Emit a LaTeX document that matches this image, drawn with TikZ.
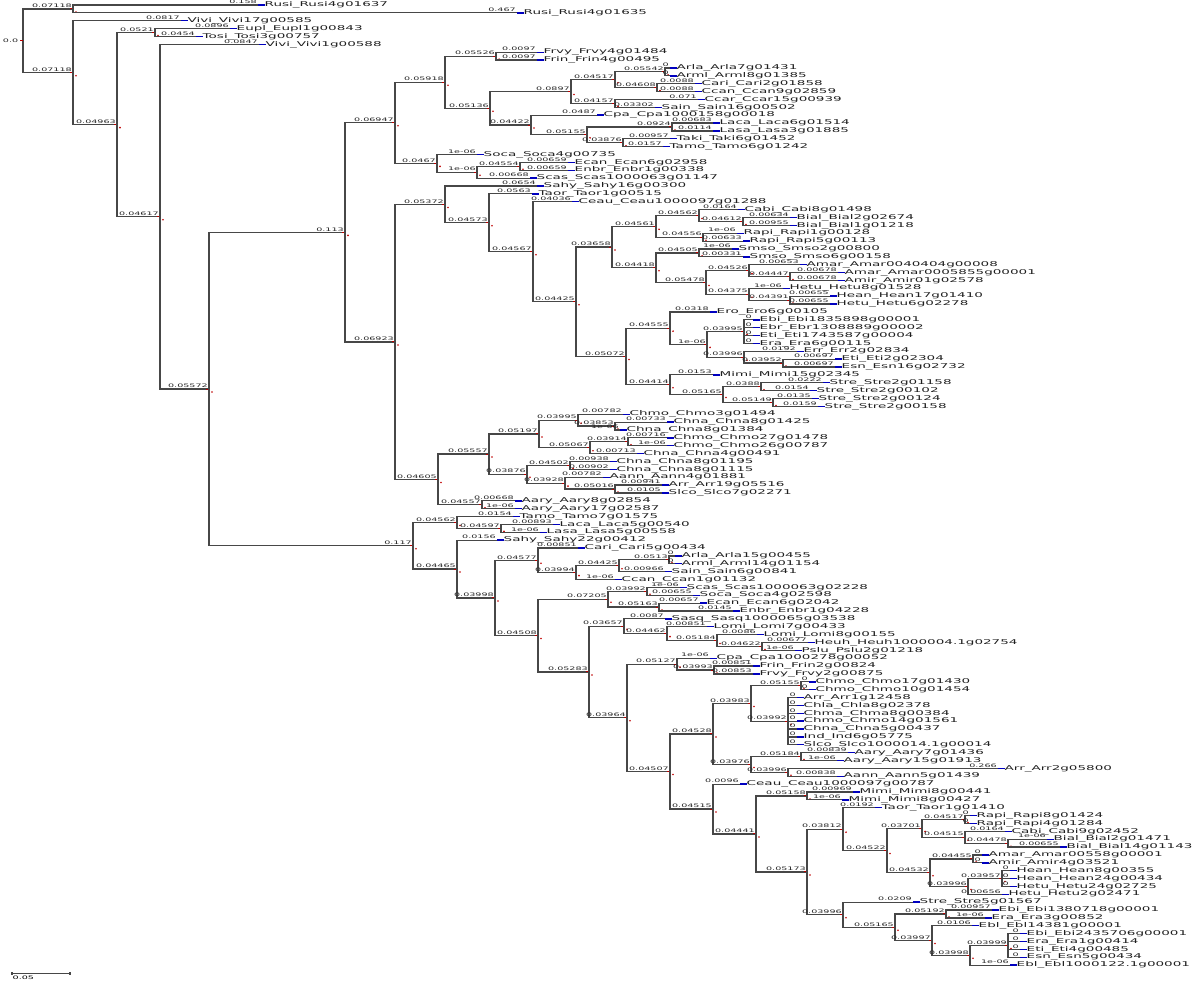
\documentclass[tikz,border=0pt]{standalone}
\usepackage{fontspec}
\usepackage{graphicx}
\newfontfamily\treefont{DejaVu Sans}
\newcommand{\leaftext}[1]{\scalebox{2.05}[1]{\treefont\fontsize{6.6}{7}\selectfont #1}}
\newcommand{\lentext}[1]{\scalebox{2}[1]{\treefont\fontsize{4.8}{5}\selectfont #1}}
\tikzset{
  branch/.style={draw=black!72, line width=1.2pt},
  tipbar/.style={draw=blue!75!black, line width=1.4pt},
  leaf/.style={anchor=west, inner sep=0pt, text=black!88},
  blen/.style={anchor=south east, inner sep=0.6pt, text=black!85},
  nodetick/.style={draw=red!75!black, line width=1pt}
}
\begin{document}
\begin{tikzpicture}[x=1pt, y=-7.87pt, yshift=-5pt]
\useasboundingbox (0,-0.635) rectangle (1200,124.4);
% internal nodes: name/x/row
\foreach \nd/\nx/\ny in {R/23/4.55, A/73/0.5, B/73/8.6, C/117/15.2, D/155/3.5,
  E/160/26.9, F/209/48.8, G/345/28.89, H/413/68.71, G1/395/14.97, G2/395/42.81,
  G1a/445/9.81, G1b/437/20.125, n1/496/6.5, n2/490/13.125, n3/571/11, n4/531/15.25,
  n5/615/9.5, n6/615/12.5, n7/665/8.5, n8/657/10.5, n9/587/16.5, n10/672/15.5,
  n11/623/17.5, n12/477/21.25, n13/520/20.5, G2a/445/25.34, G2b/438/60.28,
  n14/489/27.68, n15/533/31.35, n16/576/37.7, n17/612/30.75, n18/626/44.66,
  n19/656/28.125, n20/656/33.375, n21/699/26.75, n22/703/29.5, n23/743/27.5,
  n24/699/31.5, n25/706/35.25, n26/749/33.75, n27/749/36.75, n28/790/34.5,
  n29/790/37.5, n30/670/41.06, n31/670/48.25, n32/707/43.125, n33/744/41.5,
  n34/744/44.75, n35/783/45.5, n36/723/49.5, n37/761/48.5, n38/773/50.5,
  n39/489/57.06, n40/482/63.5, n41/539/54.5, n42/527/59.625, n43/578/52.75,
  n44/590/56.25, n45/615/53.5, n46/628/55.5, n47/570/58.5, n48/565/60.75,
  n49/615/61.5, H1/457/65.75, H2/457/71.67, n50/501/66.5, n51/495/75.34,
  n52/538/70.56, n53/538/80.125, n54/576/72.125, n55/619/71.25, n56/669/70.5,
  n57/608/75.5, n58/589/84.75, n59/647/74.5, n60/659/76.5, n61/624/78.94,
  n62/627/90.57, n63/667/79.875, n64/717/80.75, n65/762/81.5, n66/677/83.75,
  n67/670/97.39, n68/714/84.5, n69/713/92.625, n70/713/102.16, n71/751/88.75,
  n72/751/96.5, n73/801/86.5, n74/788/91, n75/801/95.5, n76/788/97.5,
  n77/756/105.33, n78/807/100.5, n79/807/110.16, n80/843/104.72, n81/843/115.59,
  n82/887/107.44, n83/922/104.625, n84/930/110.25, n85/965/103.5, n86/965/105.75,
  n87/1008/106.5, n88/973/108.5, n89/968/112, n90/1002/111, n91/895/117.19,
  n92/946/115.5, n93/932/118.875, n94/970/120.75, n95/1008/119.5}
  \coordinate (\nd) at (\nx,\ny);

% branches between internal nodes
\foreach \pa/\ch/\lbl in {R/A/0.07118, R/B/0.07118, B/C/0.04963, C/D/0.0521, C/E/0.04617,
  E/F/0.05572, F/G/0.113, F/H/0.117, G/G1/0.06947, G/G2/0.06923, G1/G1a/0.05918,
  G1/G1b/0.0467, G1a/n1/0.05526, G1a/n2/0.05136, n2/n3/0.0897, n2/n4/0.04422,
  n3/n5/0.04517, n3/n6/0.04157, n5/n7/0.05542, n5/n8/0.04608, n4/n9/0.05155,
  n9/n10/0.0924, n9/n11/0.03876, G1b/n12/1e-06, n12/n13/0.04554, G2/G2a/0.05372,
  G2/G2b/0.04605, G2a/n14/0.04573, n14/n15/0.04567, n15/n16/0.04425, n16/n17/0.03658,
  n16/n18/0.05072, n17/n19/0.04561, n17/n20/0.04418, n19/n21/0.04562, n19/n22/0.04556,
  n21/n23/0.04612, n20/n24/0.04505, n20/n25/0.05478, n25/n26/0.04526, n25/n27/0.04375,
  n26/n28/0.04447, n27/n29/0.04391, n18/n30/0.04555, n18/n31/0.04414, n30/n32/1e-06,
  n32/n33/0.03995, n32/n34/0.03996, n34/n35/0.03952, n31/n36/0.05165, n36/n37/0.0388,
  n36/n38/0.05149, G2b/n39/0.05557, G2b/n40/0.04557, n39/n41/0.05197, n39/n42/0.03876,
  n41/n43/0.03995, n41/n44/0.05067, n43/n45/0.03853, n44/n46/0.03914, n42/n47/0.04502,
  n42/n48/0.03928, n48/n49/0.05016, H/H1/0.04562, H/H2/0.04465, H1/n50/0.04597,
  H2/n51/0.03998, n51/n52/0.04577, n51/n53/0.04508, n52/n54/0.03994, n54/n55/0.04425,
  n55/n56/0.0513, n53/n57/0.07205, n53/n58/0.05283, n57/n59/0.03992, n57/n60/0.05163,
  n58/n61/0.03657, n58/n62/0.03964, n61/n63/0.04462, n63/n64/0.05184, n64/n65/0.04622,
  n62/n66/0.05127, n62/n67/0.04507, n66/n68/0.03993, n67/n69/0.04528, n67/n70/0.04515,
  n69/n71/0.03983, n69/n72/0.03976, n71/n73/0.05155, n71/n74/0.03992, n72/n75/0.05184,
  n72/n76/0.03996, n70/n77/0.04441, n77/n78/0.05158, n77/n79/0.05173, n79/n80/0.03812,
  n79/n81/0.03996, n80/n82/0.04522, n82/n83/0.03701, n82/n84/0.04532, n83/n85/0.04517,
  n83/n86/0.04515, n86/n87/0.04478, n84/n88/0.04455, n84/n89/0.03996, n89/n90/0.03957,
  n81/n91/0.05165, n91/n92/0.05192, n91/n93/0.03997, n93/n94/0.03998, n94/n95/0.03999}
{
  \draw[branch] (\pa) |- (\ch) node[blen] {\lentext{\lbl}};
  \draw[nodetick] ([xshift=-3pt]\ch) -- (\ch);
  \fill[red!75!black] ([xshift=3pt,yshift=-3pt]\ch) circle (0.9pt);
}
\draw[nodetick] ([xshift=-3pt]R) -- (R);
\node[blen, anchor=east] (rootlbl) at ([xshift=-4pt]R) {\lentext{0.0}};

% leaves: row/tip x/parent/branch length/name
\foreach \k/\tx/\pa/\lbl/\nm in {
  0/258/A/0.158/Rusi\_Rusi4g01637,
  1/517/A/0.467/Rusi\_Rusi4g01635,
  2/181/B/0.0817/Vivi\_Vivi17g00585,
  3/230/D/0.0896/Eupl\_Eupl1g00843,
  4/196/D/0.0454/Tosi\_Tosi3g00757,
  5/259/E/0.0847/Vivi\_Vivi1g00588,
  6/537/n1/0.0097/Frvy\_Frvy4g01484,
  7/537/n1/0.0097/Frin\_Frin4g00495,
  8/670/n7/0/Arla\_Arla7g01431,
  9/670/n7/0/Arml\_Arml8g01385,
  10/695/n8/0.0088/Cari\_Cari2g01858,
  11/695/n8/0.0088/Ccan\_Ccan9g02859,
  12/698/n6/0.071/Ccar\_Ccar15g00939,
  13/655/n6/0.03302/Sain\_Sain16g00502,
  14/597/n4/0.0487/Cpa\_Cpa1000158g00018,
  15/713/n10/0.00683/Laca\_Laca6g01514,
  16/713/n10/0.0114/Lasa\_Lasa3g01885,
  17/670/n11/0.00957/Taki\_Taki6g01452,
  18/663/n11/0.0157/Tamo\_Tamo6g01242,
  19/477/G1b/1e-06/Soca\_Soca4g00735,
  20/568/n13/0.00659/Ecan\_Ecan6g02958,
  21/568/n13/0.00659/Enbr\_Enbr1g00338,
  22/530/n12/0.00668/Scas\_Scas1000063g01147,
  23/537/G2a/0.0654/Sahy\_Sahy16g00300,
  24/532/n14/0.0563/Taor\_Taor1g00515,
  25/572/n15/0.04036/Ceau\_Ceau1000097g01288,
  26/738/n21/0.0164/Cabi\_Cabi8g01498,
  27/790/n23/0.00634/Bial\_Bial2g02674,
  28/790/n23/0.00955/Bial\_Bial1g01218,
  29/737/n22/1e-06/Rapi\_Rapi1g00128,
  30/743/n22/0.00633/Rapi\_Rapi5g00113,
  31/732/n24/1e-06/Smso\_Smso2g00800,
  32/743/n24/0.00331/Smso\_Smso6g00158,
  33/800/n26/0.00653/Amar\_Amar0040404g00008,
  34/838/n28/0.00678/Amar\_Amar0005855g00001,
  35/838/n28/0.00678/Amir\_Amir01g02578,
  36/783/n27/1e-06/Hetu\_Hetu8g01528,
  37/830/n29/0.00655/Hean\_Hean17g01410,
  38/830/n29/0.00655/Hetu\_Hetu6g02278,
  39/710/n30/0.0318/Ero\_Ero6g00105,
  40/753/n33/0/Ebi\_Ebi1835898g00001,
  41/753/n33/0/Ebr\_Ebr1308889g00002,
  42/753/n33/0/Eti\_Eti1743587g00004,
  43/753/n33/0/Era\_Era6g00115,
  44/797/n34/0.0192/Err\_Err2g02834,
  45/835/n35/0.00697/Eti\_Eti2g02304,
  46/835/n35/0.00697/Esn\_Esn16g02732,
  47/713/n31/0.0153/Mimi\_Mimi15g02345,
  48/823/n37/0.0222/Stre\_Stre2g01158,
  49/810/n37/0.0154/Stre\_Stre2g00102,
  50/812/n38/0.0135/Stre\_Stre2g00124,
  51/818/n38/0.0159/Stre\_Stre2g00158,
  52/623/n43/0.00782/Chmo\_Chmo3g01494,
  53/667/n45/0.00733/Chna\_Chna8g01425,
  54/620/n45/1e-06/Chna\_Chna8g01384,
  55/667/n46/0.00716/Chmo\_Chmo27g01478,
  56/667/n46/1e-06/Chmo\_Chmo26g00787,
  57/637/n44/0.00713/Chna\_Chna4g00491,
  58/610/n47/0.00938/Chna\_Chna8g01195,
  59/610/n47/0.00902/Chna\_Chna8g01115,
  60/603/n48/0.00782/Aann\_Aann4g01881,
  61/662/n49/0.00941/Arr\_Arr19g05516,
  62/662/n49/0.0105/Slco\_Slco7g02271,
  63/515/n40/0.00668/Aary\_Aary8g02854,
  64/515/n40/1e-06/Aary\_Aary17g02587,
  65/513/H1/0.0154/Tamo\_Tamo7g01575,
  66/553/n50/0.00893/Laca\_Laca5g00540,
  67/540/n50/1e-06/Lasa\_Lasa5g00558,
  68/497/H2/0.0156/Sahy\_Sahy22g00412,
  69/578/n52/0.00851/Cari\_Cari5g00434,
  70/675/n56/0/Arla\_Arla15g00455,
  71/675/n56/0/Arml\_Arml14g01154,
  72/665/n55/0.00966/Sain\_Sain6g00841,
  73/615/n54/1e-06/Ccan\_Ccan1g01132,
  74/680/n59/1e-06/Scas\_Scas1000063g02228,
  75/693/n59/0.00655/Soca\_Soca4g02598,
  76/700/n60/0.00657/Ecan\_Ecan6g02042,
  77/733/n60/0.0145/Enbr\_Enbr1g04228,
  78/665/n61/0.0087/Sasq\_Sasq1000065g03538,
  79/707/n63/0.00851/Lomi\_Lomi7g00433,
  80/757/n64/0.0086/Lomi\_Lomi8g00155,
  81/808/n65/0.00677/Heuh\_Heuh1000004.1g02754,
  82/795/n65/1e-06/Pslu\_Pslu2g01218,
  83/710/n66/1e-06/Cpa\_Cpa1000278g00052,
  84/753/n68/0.00851/Frin\_Frin2g00824,
  85/753/n68/0.00853/Frvy\_Frvy2g00875,
  86/809/n73/0/Chmo\_Chmo17g01430,
  87/809/n73/0/Chmo\_Chmo10g01454,
  88/797/n74/0/Arr\_Arr1g12458,
  89/797/n74/0/Chla\_Chla8g02378,
  90/797/n74/0/Chma\_Chma8g00384,
  91/797/n74/0/Chmo\_Chmo14g01561,
  92/797/n74/0/Chna\_Chna5g00437,
  93/797/n74/0/Ind\_Ind6g05775,
  94/797/n74/0/Slco\_Slco1000014.1g00014,
  95/848/n75/0.00839/Aary\_Aary7g01436,
  96/837/n75/1e-06/Aary\_Aary15g01913,
  97/998/n76/0.266/Arr\_Arr2g05800,
  98/837/n76/0.00838/Aann\_Aann5g01439,
  99/740/n70/0.0096/Ceau\_Ceau1000097g00787,
  100/853/n78/0.00969/Mimi\_Mimi8g00441,
  101/842/n78/1e-06/Mimi\_Mimi8g00427,
  102/875/n80/0.0192/Taor\_Taor1g01410,
  103/970/n85/0/Rapi\_Rapi8g01424,
  104/970/n85/0/Rapi\_Rapi4g01284,
  105/1005/n86/0.0164/Cabi\_Cabi9g02452,
  106/1047/n87/1e-06/Bial\_Bial2g01471,
  107/1060/n87/0.00655/Bial\_Bial14g01143,
  108/982/n88/0/Amar\_Amar00558g00001,
  109/982/n88/0/Amir\_Amir4g03521,
  110/1010/n90/0/Hean\_Hean8g00355,
  111/1010/n90/0/Hean\_Hean24g00434,
  112/1010/n90/0/Hetu\_Hetu24g02725,
  113/1002/n89/0.00656/Hetu\_Hetu2g02471,
  114/913/n81/0.0209/Stre\_Stre5g01567,
  115/992/n92/0.00957/Ebi\_Ebi1380718g00001,
  116/985/n92/1e-06/Era\_Era3g00852,
  117/972/n93/0.0106/Ebl\_Ebl14381g00001,
  118/1020/n95/0/Ebi\_Ebi2435706g00001,
  119/1020/n95/0/Era\_Era1g00414,
  120/1020/n95/0/Eti\_Eti4g00485,
  121/1020/n95/0/Esn\_Esn5g00434,
  122/1010/n94/1e-06/Ebl\_Ebl1000122.1g00001}
{
  \coordinate (t\k) at (\tx,\k);
  \node[leaf] (L\k) at ([xshift=6.5pt]t\k) {\leaftext{\nm}};
  \draw[branch] (\pa) |- (t\k) node[blen] {\lentext{\lbl}};
  \draw[tipbar] (t\k) -- (L\k.west);
}

% scale bar
\coordinate (sbl) at (12,123.1);
\coordinate (sbr) at (70,123.1);
\draw[branch, line width=0.7pt] (sbl) -- (sbr);
\draw[branch] ([yshift=1.5pt]sbl) -- ([yshift=-1.5pt]sbl);
\draw[branch] ([yshift=1.5pt]sbr) -- ([yshift=-1.5pt]sbr);
\node[anchor=north west, inner sep=0.5pt] (sblbl) at ([yshift=-1pt]sbl) {\lentext{0.05}};
\end{tikzpicture}
\end{document}
